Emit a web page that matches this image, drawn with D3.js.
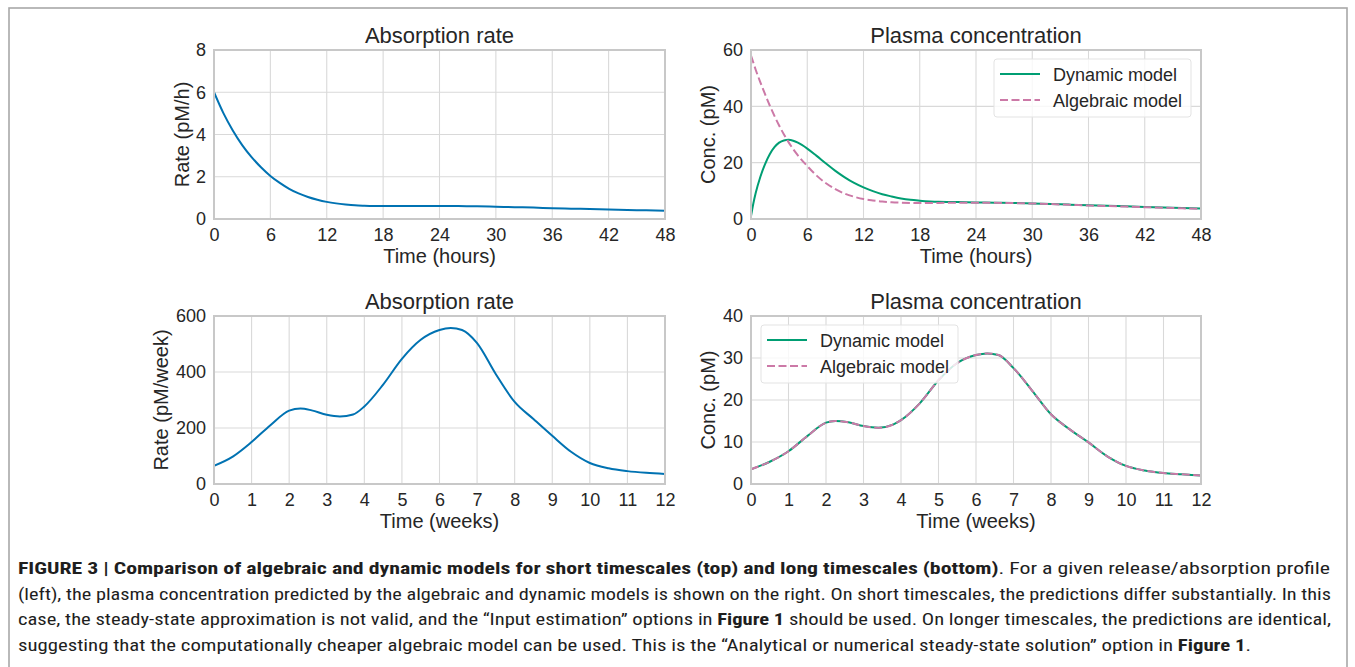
<!DOCTYPE html>
<html>
<head>
<meta charset="utf-8">
<script src="https://cdn.jsdelivr.net/npm/d3@7"></script>
<style>
  html, body { margin: 0; padding: 0; background: #fff; }
  svg { display: block; }
</style>
</head>
<body>
<svg id="fig" width="1355" height="667"></svg>
<script>
// ---------------- DATA ----------------
// Top row: short timescale (hours)
const hoursRate = [0,1,2,3,4,5,6,7,8,9,10,11,12,13,14,15,16,18,20,22,24,26,28,30,32,34,36,38,40,42,44,46,48];
const rateHourly = [6.0,5.01,4.19,3.50,2.93,2.45,2.04,1.71,1.43,1.21,1.04,0.91,0.81,0.74,0.69,0.65,0.63,0.61,0.61,0.62,0.62,0.61,0.60,0.58,0.56,0.54,0.51,0.49,0.47,0.45,0.43,0.41,0.39];

const hoursConc = [0,0.25,0.5,1,1.5,2,2.5,3,3.5,4,4.5,5,6,7,8,9,10,11,12,13,14,15,16,17,18,20,22,24,26,28,30,32,34,36,38,40,42,44,46,48];
const dynamicHourly = [1.0,5.5,9.2,15.0,19.5,23.0,25.5,27.1,27.9,28.1,27.8,27.1,25.0,22.4,19.7,17.1,14.8,12.8,11.2,9.9,8.8,8.0,7.3,6.8,6.5,6.1,6.0,5.9,5.8,5.7,5.5,5.3,5.1,4.9,4.7,4.5,4.3,4.1,3.9,3.7];
const algebraicHourly = [58.0,55.5,53.0,48.5,44.3,40.3,36.6,33.2,30.1,27.3,24.8,22.6,18.8,15.4,12.7,10.6,9.0,7.9,7.1,6.6,6.2,5.95,5.8,5.7,5.65,5.7,5.8,5.8,5.75,5.65,5.5,5.3,5.05,4.8,4.6,4.4,4.2,4.0,3.8,3.6];

// Bottom row: long timescale (weeks)
const weeksRate = [0,0.5,1,1.5,2,2.3,2.6,3,3.35,3.7,4,4.5,5,5.5,6,6.3,6.6,7,7.5,8,8.5,9,9.5,10,10.5,11,11.5,12];
const rateWeekly = [65,98,150,210,262,270,263,247,241,248,277,355,447,515,550,557,550,503,392,293,232,172,115,75,56,46,40,36];

const weeksConc = [0,0.5,1,1.5,2,2.25,2.6,3,3.4,3.8,4,4.5,5,5.5,6,6.3,6.6,7,7.5,8,8.5,9,9.5,10,10.5,11,11.5,12];
const dynamicWeekly = [3.5,5.3,7.8,11.4,14.6,15.0,14.7,13.8,13.4,14.2,15.2,19.2,24.7,28.8,30.7,31.1,30.7,27.6,22.2,16.6,13.0,9.9,6.6,4.3,3.2,2.6,2.3,2.0];
const algebraicWeekly = [3.5,5.3,7.8,11.4,14.6,15.0,14.7,13.8,13.4,14.2,15.2,19.2,24.7,28.8,30.7,31.1,30.7,27.6,22.2,16.6,13.0,9.9,6.6,4.3,3.2,2.6,2.3,2.0];

const xTicksHours = [0,6,12,18,24,30,36,42,48];
const xTicksWeeks = [0,1,2,3,4,5,6,7,8,9,10,11,12];
const yTicksRateH = [0,2,4,6,8];
const yTicksConcH = [0,20,40,60];
const yTicksRateW = [0,200,400,600];
const yTicksConcW = [0,10,20,30,40];

const titles = ["Absorption rate", "Plasma concentration"];
const legendLabels = ["Dynamic model", "Algebraic model"];

// ---------------- STYLE ----------------
const C_BLUE = "#0072b2", C_GREEN = "#009e73", C_PINK = "#cc79a7";
const TXT = "#262626";
const FONT = "'Liberation Sans', Arial, sans-serif";

const svg = d3.select("#fig");

// outer frame
svg.append("rect").attr("x", 9).attr("y", 8).attr("width", 1338).attr("height", 700)
  .attr("fill", "none").attr("stroke", "#a8a8a8").attr("stroke-width", 1.6);

function panel(cfg) {
  const x = d3.scaleLinear().domain(cfg.xDomain).range([cfg.left, cfg.right]);
  const y = d3.scaleLinear().domain(cfg.yDomain).range([cfg.bottom, cfg.top]);
  const g = svg.append("g");

  // grid
  g.append("g").selectAll("line").data(cfg.xTicks).join("line")
    .attr("x1", d => x(d)).attr("x2", d => x(d)).attr("y1", cfg.top).attr("y2", cfg.bottom)
    .attr("stroke", "#d9d9d9").attr("stroke-width", 1.1);
  g.append("g").selectAll("line").data(cfg.yTicks).join("line")
    .attr("y1", d => y(d)).attr("y2", d => y(d)).attr("x1", cfg.left).attr("x2", cfg.right)
    .attr("stroke", "#d9d9d9").attr("stroke-width", 1.1);

  // axes (labels only, no tick marks)
  const xAxis = d3.axisBottom(x).tickValues(cfg.xTicks).tickSize(0).tickPadding(9).tickFormat(d3.format("d"));
  const gx = g.append("g").attr("transform", `translate(0,${cfg.bottom})`).call(xAxis);
  const yAxis = d3.axisLeft(y).tickValues(cfg.yTicks).tickSize(0).tickPadding(8).tickFormat(d3.format("d"));
  const gy = g.append("g").attr("transform", `translate(${cfg.left},0)`).call(yAxis);
  [gx, gy].forEach(a => {
    a.select(".domain").remove();
    a.selectAll("text").attr("fill", TXT).style("font-family", FONT).style("font-size", "18px");
  });

  // lines
  const clipId = "clip" + Math.round(cfg.left) + "_" + Math.round(cfg.top);
  svg.append("clipPath").attr("id", clipId).append("rect")
    .attr("x", cfg.left).attr("y", cfg.top - 2).attr("width", cfg.right - cfg.left).attr("height", cfg.bottom - cfg.top + 2);
  cfg.series.forEach(s => {
    const pts = s.xs.map((v, i) => [v, s.ys[i]]);
    const line = d3.line().x(d => x(d[0])).y(d => y(d[1])).curve(d3.curveMonotoneX);
    g.append("path").attr("d", line(pts)).attr("fill", "none")
      .attr("stroke", s.color).attr("stroke-width", 2)
      .attr("stroke-dasharray", s.dash || null)
      .attr("clip-path", `url(#${clipId})`);
  });

  // frame
  g.append("rect").attr("x", cfg.left).attr("y", cfg.top)
    .attr("width", cfg.right - cfg.left).attr("height", cfg.bottom - cfg.top)
    .attr("fill", "none").attr("stroke", "#c8c8c8").attr("stroke-width", 2);

  // title
  const cx = (cfg.left + cfg.right) / 2;
  g.append("text").attr("x", cx).attr("y", cfg.top - 7).attr("text-anchor", "middle")
    .attr("fill", TXT).style("font-family", FONT).style("font-size", "22px").text(cfg.title);
  // x label
  g.append("text").attr("x", cx).attr("y", cfg.bottom + 44).attr("text-anchor", "middle")
    .attr("fill", TXT).style("font-family", FONT).style("font-size", "20px").text(cfg.xLabel);
  // y label
  g.append("text").attr("transform", `translate(${cfg.yLabelX},${(cfg.top + cfg.bottom) / 2}) rotate(-90)`)
    .attr("text-anchor", "middle").attr("fill", TXT).style("font-family", FONT).style("font-size", "20px").text(cfg.yLabel);

  // legend
  if (cfg.legend) {
    const L = cfg.legend;
    g.append("rect").attr("x", L.x).attr("y", L.y).attr("width", 197).attr("height", 58).attr("rx", 3)
      .attr("fill", "rgba(255,255,255,0.8)").attr("stroke", "#e3e3e3").attr("stroke-width", 1);
    const items = [
      { label: legendLabels[0], color: C_GREEN, dash: null },
      { label: legendLabels[1], color: C_PINK, dash: "8,3.5" }
    ];
    items.forEach((it, i) => {
      const yy = L.y + 15 + i * 26;
      g.append("line").attr("x1", L.x + 6).attr("x2", L.x + 46).attr("y1", yy).attr("y2", yy)
        .attr("stroke", it.color).attr("stroke-width", 2).attr("stroke-dasharray", it.dash);
      g.append("text").attr("x", L.x + 59).attr("y", yy + 6.5).attr("fill", TXT)
        .style("font-family", FONT).style("font-size", "18px").text(it.label);
    });
  }
}

panel({ left: 214, right: 665, top: 50, bottom: 219, xDomain: [0, 48], yDomain: [0, 8],
  xTicks: xTicksHours, yTicks: yTicksRateH, title: titles[0], xLabel: "Time (hours)", yLabel: "Rate (pM/h)", yLabelX: 189,
  series: [{ xs: hoursRate, ys: rateHourly, color: C_BLUE }] });

panel({ left: 751, right: 1201, top: 50, bottom: 219, xDomain: [0, 48], yDomain: [0, 60],
  xTicks: xTicksHours, yTicks: yTicksConcH, title: titles[1], xLabel: "Time (hours)", yLabel: "Conc. (pM)", yLabelX: 715,
  series: [{ xs: hoursConc, ys: dynamicHourly, color: C_GREEN }, { xs: hoursConc, ys: algebraicHourly, color: C_PINK, dash: "8,3.5" }],
  legend: { x: 994, y: 59 } });

panel({ left: 214, right: 665, top: 316, bottom: 484, xDomain: [0, 12], yDomain: [0, 600],
  xTicks: xTicksWeeks, yTicks: yTicksRateW, title: titles[0], xLabel: "Time (weeks)", yLabel: "Rate (pM/week)", yLabelX: 168,
  series: [{ xs: weeksRate, ys: rateWeekly, color: C_BLUE }] });

panel({ left: 751, right: 1201, top: 316, bottom: 484, xDomain: [0, 12], yDomain: [0, 40],
  xTicks: xTicksWeeks, yTicks: yTicksConcW, title: titles[1], xLabel: "Time (weeks)", yLabel: "Conc. (pM)", yLabelX: 715,
  series: [{ xs: weeksConc, ys: dynamicWeekly, color: C_GREEN }, { xs: weeksConc, ys: algebraicWeekly, color: C_PINK, dash: "8,3.5" }],
  legend: { x: 761, y: 325 } });

// ---------------- CAPTION ----------------
const captionLines = [
  { w: 1312, parts: [["FIGURE 3 | Comparison of algebraic and dynamic models for short timescales (top) and long timescales (bottom)", true], [". For a given release/absorption profile", false]] },
  { w: 1313, parts: [["(left), the plasma concentration predicted by the algebraic and dynamic models is shown on the right. On short timescales, the predictions differ substantially. In this", false]] },
  { w: 1313, parts: [["case, the steady-state approximation is not valid, and the \u201cInput estimation\u201d options in ", false], ["Figure 1", true], [" should be used. On longer timescales, the predictions are identical,", false]] },
  { w: 1233, parts: [["suggesting that the computationally cheaper algebraic model can be used. This is the \u201cAnalytical or numerical steady-state solution\u201d option in ", false], ["Figure 1", true], [".", false]] }
];
captionLines.forEach((ln, i) => {
  const t = svg.append("text").attr("x", 18).attr("y", 574 + i * 25.7)
    .attr("textLength", ln.w).attr("lengthAdjust", "spacingAndGlyphs")
    .attr("fill", "#1e1e1e")
    .style("font-family", "'Liberation Sans Narrow', 'Roboto Condensed', Roboto, 'Liberation Sans', sans-serif")
    .style("font-size", "16px");
  ln.parts.forEach(p => t.append("tspan").attr("font-weight", p[1] ? "bold" : "normal").text(p[0]));
});
</script>
</body>
</html>
